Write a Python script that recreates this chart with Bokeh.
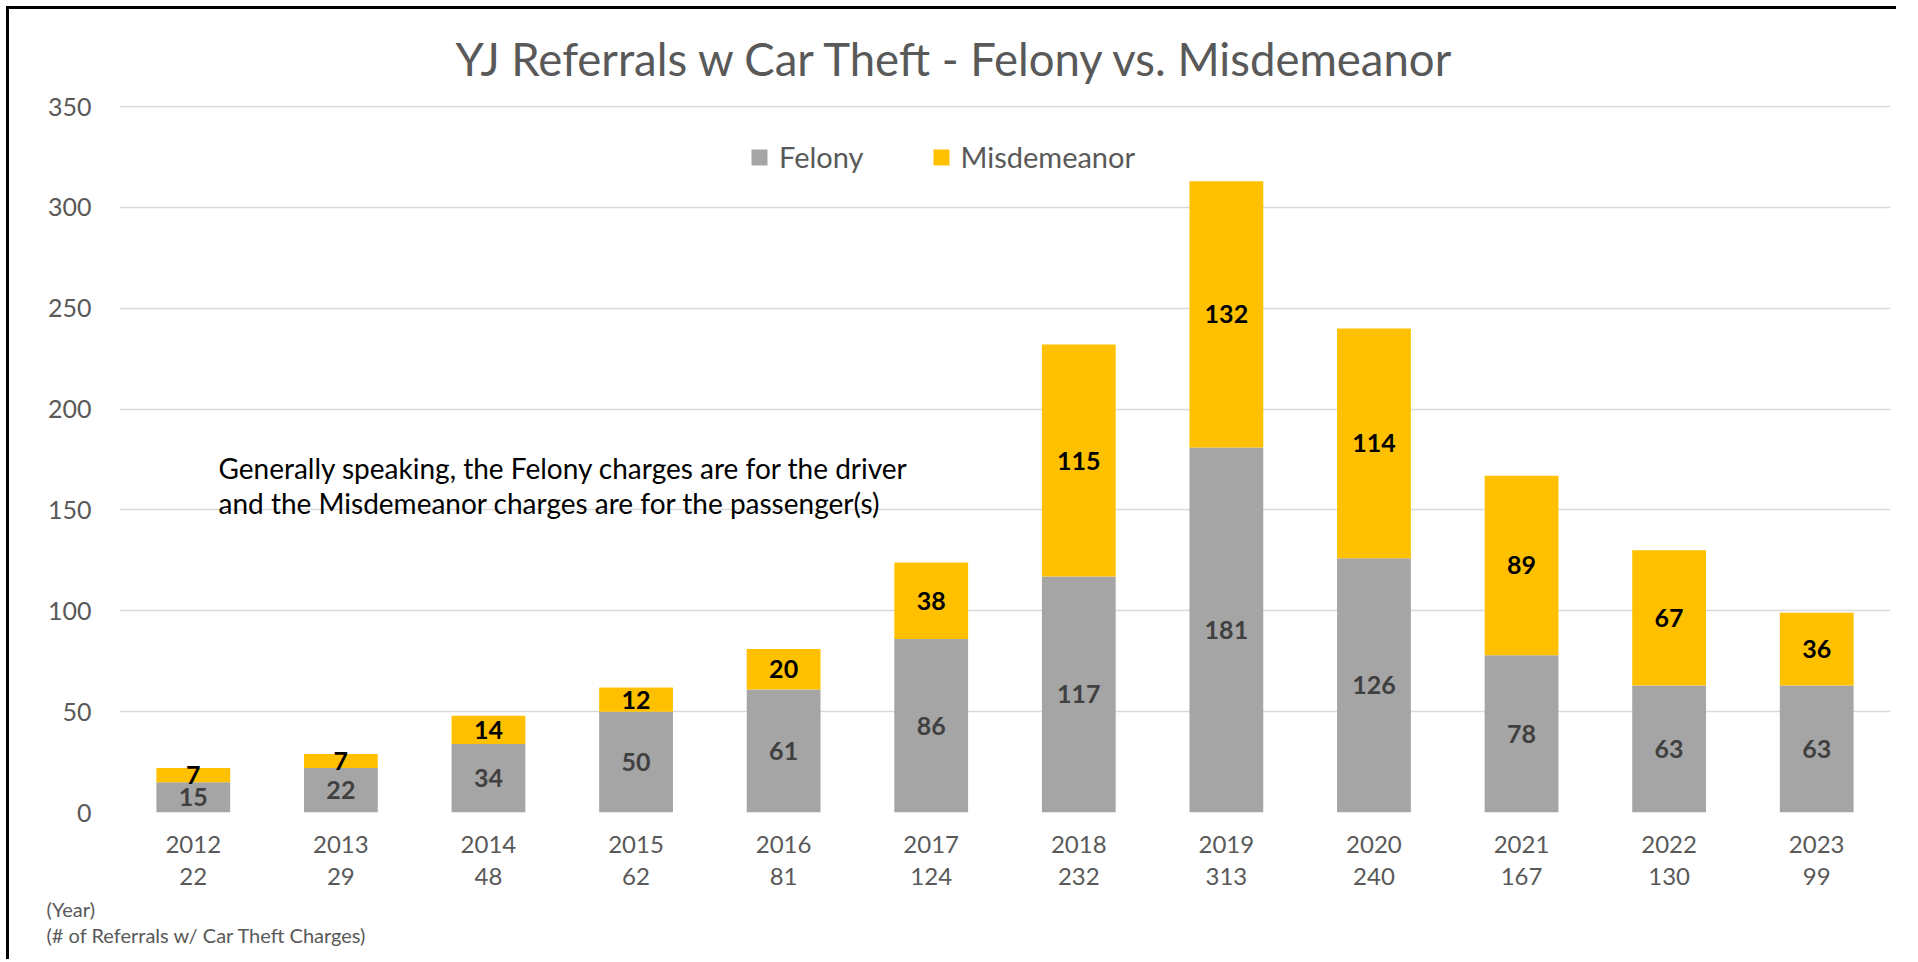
from bokeh.plotting import figure
from bokeh.models import (ColumnDataSource, FactorRange, Range1d, Label, Legend,
                          LegendItem, CategoricalAxis, FixedTicker, Title)
from bokeh.core.properties import value
from bokeh.embed import file_html
from bokeh.resources import INLINE

# ---- data ----
years = ["2012", "2013", "2014", "2015", "2016", "2017",
         "2018", "2019", "2020", "2021", "2022", "2023"]
felony = [15, 22, 34, 50, 61, 86, 117, 181, 126, 78, 63, 63]
misdemeanor = [7, 7, 14, 12, 20, 38, 115, 132, 114, 89, 67, 36]
totals = [22, 29, 48, 62, 81, 124, 232, 313, 240, 167, 130, 99]
y_ticks = [0, 50, 100, 150, 200, 250, 300, 350]
series_names = ["Felony", "Misdemeanor"]

title_text = "YJ Referrals w Car Theft - Felony vs. Misdemeanor"
note_lines = ["Generally speaking, the Felony charges are for the driver",
              "and the Misdemeanor charges are for the passenger(s)"]
foot_lines = ["(Year)", "(# of Referrals w/ Car Theft Charges)"]

FONT = "Lato"
GRAY = "#A5A5A5"
YELLOW = "#FFC000"
TXT = "#595959"

src = ColumnDataSource(dict(
    year=years,
    felony=felony,
    misdemeanor=misdemeanor,
    fel_mid=[f / 2 for f in felony],
    mis_mid=[f + m / 2 for f, m in zip(felony, misdemeanor)],
    fel_txt=[str(f) for f in felony],
    mis_txt=[str(m) for m in misdemeanor],
))

p = figure(x_range=FactorRange(factors=years, range_padding=0),
           y_range=Range1d(0, 350.5),
           width=1887, height=950,
           output_backend="svg", toolbar_location=None,
           min_border_left=110, min_border_right=9,
           min_border_top=96, min_border_bottom=150)
p.styles = {"margin-left": "6px", "margin-top": "6px",
            "border-left": "3px solid black", "border-top": "3px solid black",
            "box-sizing": "content-box"}
p.outline_line_color = None
p.background_fill_color = "white"
p.border_fill_color = "white"
p.extra_x_ranges = {"tot": FactorRange(factors=[str(t) for t in totals], range_padding=0)}

rs = p.vbar_stack(["felony", "misdemeanor"], x="year", width=0.5,
                  color=[GRAY, YELLOW], line_color=None, source=src)

p.text(x="year", y="fel_mid", text="fel_txt", source=src,
       text_align="center", text_baseline="middle",
       text_font=value(FONT), text_font_style="bold",
       text_font_size="25px", text_color="#404040")
p.text(x="year", y="mis_mid", text="mis_txt", source=src,
       text_align="center", text_baseline="middle",
       text_font=value(FONT), text_font_style="bold",
       text_font_size="25px", text_color="#000000")

# y axis
p.yaxis.ticker = FixedTicker(ticks=y_ticks)
p.yaxis.axis_line_color = None
p.yaxis.major_tick_line_color = None
p.yaxis.minor_tick_line_color = None
p.yaxis.major_label_standoff = 22
p.yaxis.major_label_text_font = FONT
p.yaxis.major_label_text_font_size = "25px"
p.yaxis.major_label_text_color = TXT

p.ygrid.ticker = FixedTicker(ticks=y_ticks)
p.ygrid.grid_line_color = "#D9D9D9"
p.ygrid.grid_line_width = 1.5
p.xgrid.grid_line_color = None


def style_x(ax, standoff):
    ax.axis_line_color = None
    ax.major_tick_line_color = None
    ax.minor_tick_line_color = None
    ax.major_tick_out = 0
    ax.major_tick_in = 0
    ax.major_label_standoff = standoff
    ax.major_label_text_font = FONT
    ax.major_label_text_font_size = "24px"
    ax.major_label_text_color = TXT


# x axis: years
style_x(p.xaxis[0], 23)

# second x axis: totals
ax2 = CategoricalAxis(x_range_name="tot")
style_x(ax2, 12)
p.add_layout(ax2, "below")

# legend
legend = Legend(items=[LegendItem(label=series_names[0], renderers=[rs[0]]),
                       LegendItem(label=series_names[1], renderers=[rs[1]])],
                orientation="horizontal", location=(630, 638),
                glyph_width=20, glyph_height=20, label_standoff=10,
                spacing=67, padding=0, margin=0,
                border_line_color=None, background_fill_alpha=0,
                label_text_font=FONT, label_text_font_size="29px",
                label_text_color=TXT)
p.add_layout(legend)

# title
p.add_layout(Title(text=title_text, align="left", offset=336, standoff=39,
                   text_font=FONT, text_font_size="45.5px",
                   text_font_style="normal", text_color=TXT), "above")

# note
for t, yy in zip(note_lines, [345, 310]):
    p.add_layout(Label(x=99, y=yy, x_units="screen", y_units="screen",
                       text=t, text_align="left", text_baseline="middle",
                       text_font=FONT, text_font_size="28px", text_color="#000000"))

# footnotes (two lines)
p.add_layout(Title(text="\n".join(foot_lines), align="left", offset=-73, standoff=15,
                   text_font=FONT, text_font_size="20px", text_line_height=1.1,
                   text_font_style="normal", text_color=TXT), "below")

open("out.html", "w").write(file_html(p, INLINE))
